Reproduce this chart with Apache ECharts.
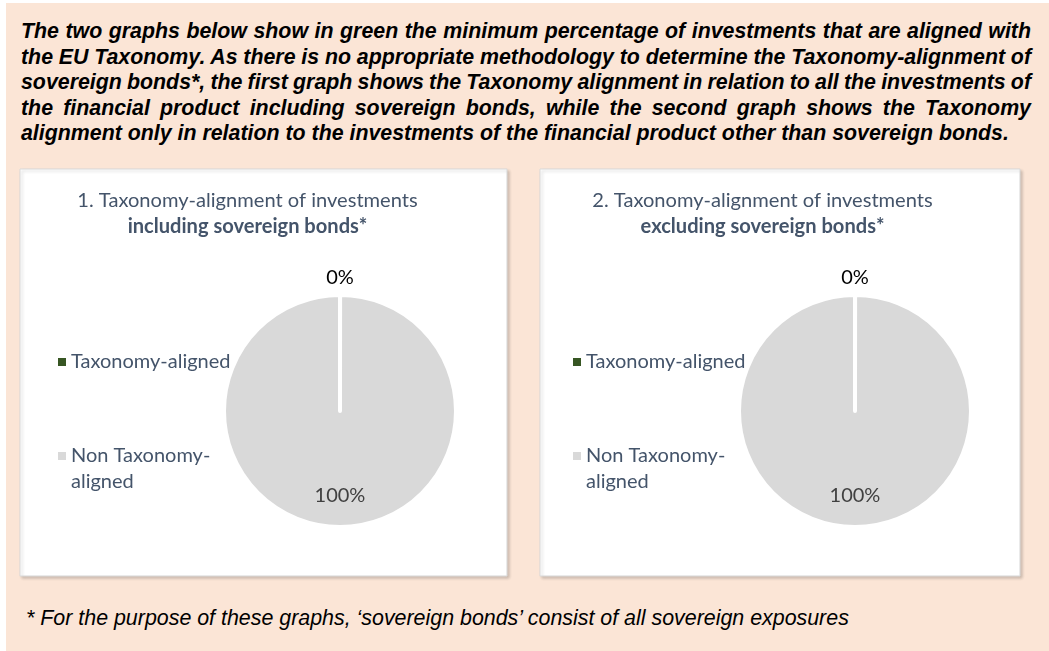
<!DOCTYPE html>
<html>
<head>
<meta charset="utf-8">
<script src="https://cdn.jsdelivr.net/npm/echarts@6/dist/echarts.min.js"></script>
<style>
  html, body { margin: 0; padding: 0; width: 1049px; height: 651px; background: #ffffff; overflow: hidden; }
  #bg { position: absolute; left: 6px; top: 3px; right: 0; bottom: 0; background: #FBE5D6; }
  .hl { position: absolute; left: 21px; width: 1010px; font-family: 'Liberation Sans', Arial, sans-serif;
        font-weight: bold; font-style: italic; font-size: 21.35px; line-height: 25.5px; color: #000;
        text-align: justify; text-align-last: justify; white-space: nowrap; word-spacing: -2px; }
  .hl.last { text-align: left; text-align-last: left; word-spacing: 0; }
  #foot { position: absolute; left: 26px; top: 605px; font-family: 'Liberation Sans', Arial, sans-serif;
          font-style: italic; font-size: 21.4px; line-height: 26px; color: #000; white-space: nowrap; }
  #chart { position: absolute; left: 0; top: 0; width: 1049px; height: 651px; }
</style>
</head>
<body>
<div id="bg"></div>
<div class="hl" style="top:19px">The two graphs below show in green the minimum percentage of investments that are aligned with</div>
<div class="hl" style="top:44.5px">the EU Taxonomy. As there is no appropriate methodology to determine the Taxonomy-alignment of</div>
<div class="hl" style="top:70px">sovereign bonds*, the first graph shows the Taxonomy alignment in relation to all the investments of</div>
<div class="hl" style="top:95.5px">the financial product including sovereign bonds, while the second graph shows the Taxonomy</div>
<div class="hl last" style="top:121px">alignment only in relation to the investments of the financial product other than sovereign bonds.</div>
<div id="foot">* For the purpose of these graphs, ‘sovereign bonds’ consist of all sovereign exposures</div>
<div id="chart"></div>
<script>
// ---- data ----
const categories = ['Taxonomy-aligned', 'Non Taxonomy-aligned'];
const includingSovereignValues = [0, 100];
const excludingSovereignValues = [0, 100];
const chartTitles = ['1. Taxonomy-alignment of investments', '2. Taxonomy-alignment of investments'];
const chartSubtitles = ['including sovereign bonds*', 'excluding sovereign bonds*'];

// ---- styles ----
const sliceColors = ['#375623', '#D9D9D9'];
const labelColors = ['#000000', '#404040'];
const textColor = '#44546A';
const font = 'Lato, "Open Sans", sans-serif';

const panels = [
  { x: 20, y: 169, w: 487, h: 407, cx: 340, cy: 411, titleX: 247.5, legendX: 58 },
  { x: 540, y: 169, w: 480, h: 407, cx: 855, cy: 411, titleX: 762.5, legendX: 573 }
];
const valueSets = [includingSovereignValues, excludingSovereignValues];

const chart = echarts.init(document.getElementById('chart'), null, { renderer: 'canvas' });

function wrapName(name) {
  // multi-line legend entry: first text line sits level with the marker
  return name.indexOf('Non ') === 0 ? '\n' + name.replace('Taxonomy-', 'Taxonomy-\n') : name;
}

const option = {
  backgroundColor: 'transparent',
  animation: false,
  color: sliceColors,
  graphic: panels.map(p => ({
    type: 'rect', z: -10, silent: true,
    shape: { x: p.x, y: p.y, width: p.w, height: p.h },
    style: { fill: '#ffffff', stroke: '#D9D9D9', lineWidth: 1,
             shadowBlur: 3, shadowOffsetX: 2, shadowOffsetY: 2, shadowColor: 'rgba(0,0,0,0.18)' }
  })),
  title: panels.map((p, i) => ({
    text: '{a|' + chartTitles[i] + '}\n{b|' + chartSubtitles[i] + '}',
    left: p.titleX, top: 187, padding: 0, textAlign: 'center',
    textStyle: {
      fontWeight: 'normal',
      rich: {
        a: { fontFamily: font, fontSize: 20.1, fontWeight: 'normal', color: textColor, lineHeight: 26.6 },
        b: { fontFamily: font, fontSize: 20.1, fontWeight: 'bold', color: textColor, lineHeight: 26.6 }
      }
    }
  })),
  legend: [].concat(...panels.map(p => categories.map((c, k) => ({
    data: [c], orient: 'vertical', left: p.legendX, top: k === 0 ? 349 : 417, padding: 0,
    icon: 'rect', itemWidth: 8, itemHeight: 8, selectedMode: false,
    itemStyle: { borderWidth: 0 },
    formatter: wrapName,
    textStyle: { fontFamily: font, fontSize: 20, color: textColor, lineHeight: 26 }
  })))),
  series: panels.map((p, i) => ({
    type: 'pie',
    center: [p.cx, p.cy],
    radius: 116,
    startAngle: 90,
    clockwise: true,
    minAngle: 0.05,
    avoidLabelOverlap: false,
    silent: true,
    emphasis: { disabled: true },
    itemStyle: { borderColor: '#ffffff', borderWidth: 4, borderJoin: 'round' },
    label: {
      show: true, position: 'inside', formatter: '{d}%',
      fontFamily: font, fontSize: 20
    },
    labelLine: { show: false },
    labelLayout: function (params) {
      return { dy: params.dataIndex === 0 ? -72 : 24 };
    },
    data: categories.map((c, k) => ({
      name: c, value: valueSets[i][k],
      label: { color: labelColors[k] }
    }))
  }))
};
chart.setOption(option);
</script>
</body>
</html>
